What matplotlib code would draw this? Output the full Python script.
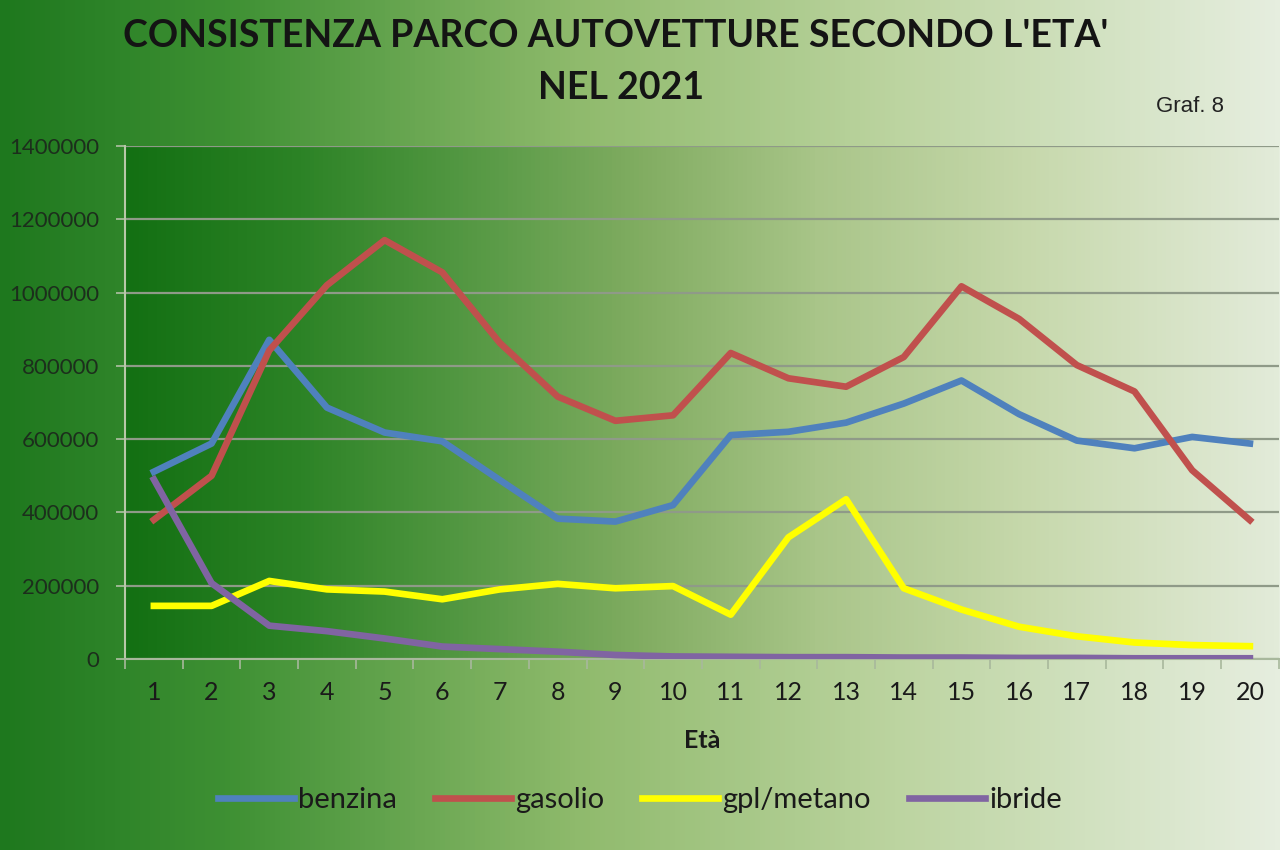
import matplotlib
matplotlib.use('Agg')
import matplotlib.pyplot as plt
import numpy as np
from matplotlib.colors import LinearSegmentedColormap

plt.rcParams['font.family'] = ['Lato', 'DejaVu Sans']

eta = list(range(1, 21))
benzina = [511000, 588000, 871000, 686000, 618000, 594000, 488000, 383000, 375000, 420000,
           611000, 620000, 645000, 697000, 760000, 668000, 596000, 575000, 606000, 588000]
gasolio = [380000, 500000, 842000, 1020000, 1143000, 1055000, 862000, 716000, 650000, 665000,
           835000, 766000, 743000, 824000, 1017000, 928000, 802000, 730000, 515000, 379000]
gpl_metano = [145000, 145000, 213000, 190000, 184000, 163000, 190000, 205000, 193000, 199000,
              121000, 332000, 436000, 193000, 135000, 88000, 62000, 45000, 38000, 35000]
ibride = [490000, 207000, 91000, 76000, 56000, 34000, 27000, 20000, 11000, 7000,
          6000, 5000, 5000, 4000, 4000, 3000, 3000, 2000, 2000, 2000]

serie = ['benzina', 'gasolio', 'gpl/metano', 'ibride']
colori = ['#4f81bd', '#c0504d', '#ffff00', '#8064a2']
yticks = list(range(0, 1400001, 200000))

fig = plt.figure(figsize=(12.8, 8.5), dpi=100)

# sfondo sfumato della figura
cmap_fig = LinearSegmentedColormap.from_list(
    'fig', [(0, '#1e781e'), (0.18, '#3f9134'), (0.45, '#8fba6c'),
            (0.7, '#bcd4a0'), (1, '#e6eedf')])
bg = fig.add_axes([0, 0, 1, 1], zorder=0)
bg.imshow(np.linspace(0, 1, 256).reshape(1, -1), cmap=cmap_fig, aspect='auto', extent=(0, 1, 0, 1))
bg.set_axis_off()

ax = fig.add_axes([0.0977, 0.2247, 0.9013, 0.6036], zorder=1)
ax.patch.set_visible(False)

# sfondo sfumato dell'area del grafico
cmap_ax = LinearSegmentedColormap.from_list(
    'ax', [(0, '#137013'), (0.15, '#2c8326'), (0.33, '#5e9d4a'), (0.45, '#82ad62'),
           (0.6, '#a9c589'), (0.78, '#c6d8ab'), (1, '#e2ebd9')])
ax.imshow(np.linspace(0, 1, 256).reshape(1, -1), cmap=cmap_ax, aspect='auto',
          extent=(0.5, 20.5, 0, 1400000), zorder=0)

for vals, nome, col in zip([benzina, gasolio, gpl_metano, ibride], serie, colori):
    ax.plot(eta, vals, color=col, lw=4.8, label=nome, zorder=3, solid_joinstyle='round')

ax.set_xlim(0.5, 20.5)
ax.set_ylim(0, 1400000)
ax.set_yticks(yticks)
ax.set_yticklabels([str(v) for v in yticks], fontsize=16, color='#1c2e1c')
ax.set_xticks(eta)
ax.set_xticklabels([str(e) for e in eta], fontsize=18, color='#1a1a1a')
ax.set_xticks(np.arange(0.5, 21, 1), minor=True)
ax.tick_params(axis='x', which='major', length=0, pad=16)
ax.tick_params(axis='x', which='minor', length=7, color='#a8b89c', width=1.2)
ax.tick_params(axis='y', length=6.5, color='#b0c0a4', width=1.2, pad=12)

ax.grid(axis='y', color='#8f9a88', lw=1.6, zorder=1)
for s in ['top', 'right']:
    ax.spines[s].set_visible(False)
ax.spines['left'].set_color('#b8c8a8')
ax.spines['bottom'].set_color('#a8b89c')
ax.spines['left'].set_linewidth(1.5)
ax.spines['bottom'].set_linewidth(1.5)

ax.set_xlabel('Età', fontsize=18, fontweight='bold', color='#1a1a1a', labelpad=18)

fig.text(0.481, 0.958, "CONSISTENZA PARCO AUTOVETTURE SECONDO L'ETA'", ha='center', va='center',
         fontsize=27, fontweight='bold', color='#141414')
fig.text(0.485, 0.896, "NEL 2021", ha='center', va='center',
         fontsize=27, fontweight='bold', color='#141414')
fig.text(0.930, 0.875, "Graf. 8", ha='center', va='center', fontsize=16,
         family=['Liberation Sans', 'DejaVu Sans'], color='#222222')

leg = fig.legend(loc='center', bbox_to_anchor=(0.5, 0.059), ncol=4, frameon=False,
                 fontsize=21, handlelength=2.6, handletextpad=0.15, columnspacing=1.3)
for t in leg.get_texts():
    t.set_color('#1a1a1a')

fig.savefig('out.png', dpi=100)
